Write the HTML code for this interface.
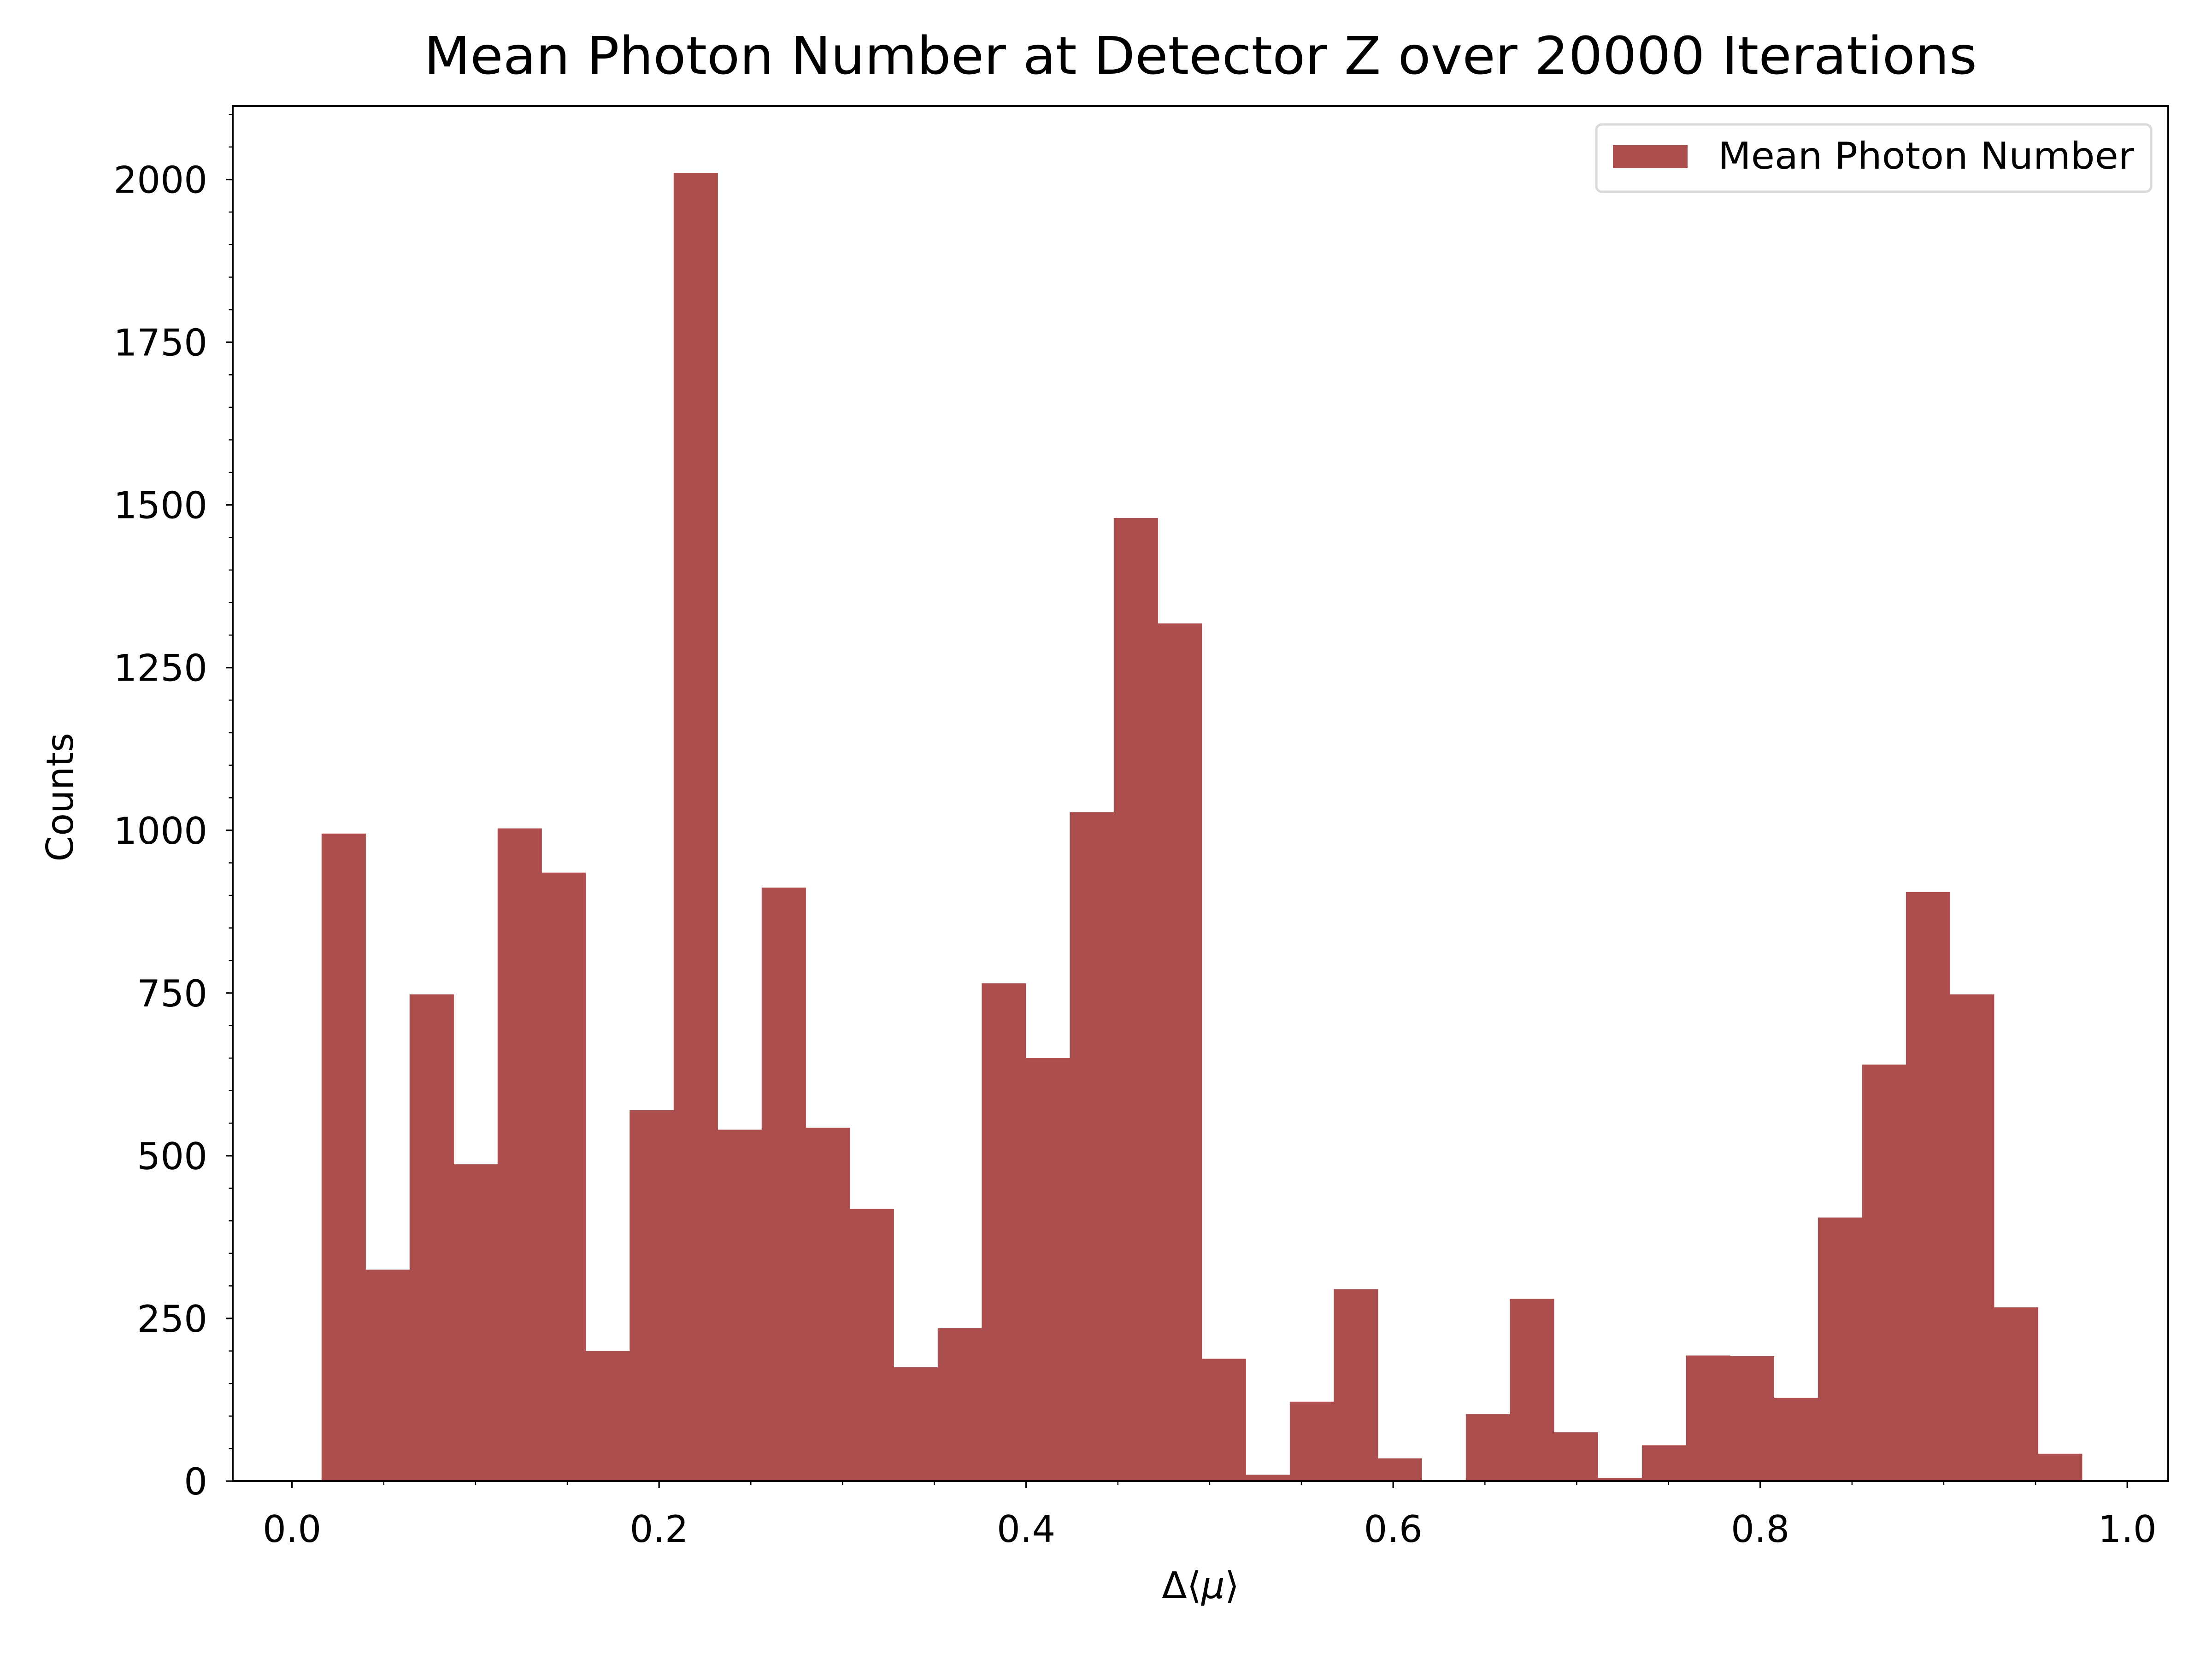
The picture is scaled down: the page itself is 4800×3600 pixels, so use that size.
<!DOCTYPE html>
<html><head><meta charset="utf-8">
<style>
html,body{margin:0;padding:0;background:#fff;}
svg{display:block;font-family:"DejaVu Sans","Liberation Sans",sans-serif;}
</style></head>
<body>
<svg id="chart" width="4800" height="3600" viewBox="0 0 4800 3600" xmlns="http://www.w3.org/2000/svg">
<rect x="0" y="0" width="4800" height="3600" fill="#fff"/>
<text x="2605" y="160" font-size="112" text-anchor="middle" textLength="3370" lengthAdjust="spacingAndGlyphs" fill="#000">Mean Photon Number at Detector Z over 20000 Iterations</text>
<g id="bars"></g>
<g id="ticks"></g>
<rect x="505" y="230" width="4200" height="2984" fill="none" stroke="#000" stroke-width="4"/>
<text x="2605" y="3468" font-size="80" text-anchor="middle" fill="#000">Δ⟨<tspan font-style="italic">μ</tspan>⟩</text>
<text x="0" y="0" font-size="80" text-anchor="middle" fill="#000" transform="translate(158,1730) rotate(-90)">Counts</text>
<g>
<rect x="3464" y="270" width="1204" height="146" rx="12" fill="#fff" stroke="#d9d9d9" stroke-width="5"/>
<rect x="3500" y="315" width="162" height="50" fill="#ad4e4e"/>
<text x="3728" y="366" font-size="80" textLength="903" lengthAdjust="spacingAndGlyphs" fill="#000">Mean Photon Number</text>
</g>
</svg>
<script>
const binStart = 0.0161;
const binWidth = 0.02398;
const counts = [995,325,748,487,1003,935,200,570,2010,540,912,543,418,175,235,765,650,1028,1480,1318,188,10,122,295,35,0,103,280,75,5,55,193,192,128,405,640,905,748,267,42];
const xTickValues = [0.0,0.2,0.4,0.6,0.8,1.0];
const xTickLabels = ["0.0","0.2","0.4","0.6","0.8","1.0"];
const yTickValues = [0,250,500,750,1000,1250,1500,1750,2000];
const yTickLabels = ["0","250","500","750","1000","1250","1500","1750","2000"];

const NS = "http://www.w3.org/2000/svg";
const X0 = 505, X1 = 4705, Y0 = 3214, Y1 = 230;
const xMin = -0.0323, xMax = 1.0223, yMin = 0, yMax = 2113;
function xs(v){ return X0 + (v - xMin) / (xMax - xMin) * (X1 - X0); }
function ys(v){ return Y0 - (v - yMin) / (yMax - yMin) * (Y0 - Y1); }
function mk(tag, attrs){ const e = document.createElementNS(NS, tag); for (const k in attrs) e.setAttribute(k, attrs[k]); return e; }

const bars = document.getElementById('bars');
counts.forEach((c, i) => {
  const a = binStart + i * binWidth, b = a + binWidth;
  const r = mk('rect', {x: xs(a), y: ys(c), width: xs(b) - xs(a) + 0.6, height: ys(0) - ys(c), fill: '#ad4e4e'});
  
  
  bars.appendChild(r);
});

const ticks = document.getElementById('ticks');
xTickValues.forEach((v, i) => {
  const x = xs(v);
  const t = mk('line', {x1: x, x2: x, y1: Y0, y2: Y0 + 15, stroke: '#000', 'stroke-width': 3.3});
  
  
  ticks.appendChild(t);
  const l = mk('text', {x: x, y: 3346, 'font-size': 80, 'text-anchor': 'middle', fill: '#000'});
  l.textContent = xTickLabels[i];
  
  
  ticks.appendChild(l);
});
for (let k = 0; k <= 1.0001; k += 0.05) {
  const v = Math.round(k * 100) / 100;
  if (Math.abs(v * 5 - Math.round(v * 5)) < 1e-6) continue;
  const x = xs(v);
  const t = mk('line', {x1: x, x2: x, y1: Y0, y2: Y0 + 8.5, stroke: '#000', 'stroke-width': 2.5});
  
  
  ticks.appendChild(t);
}
yTickValues.forEach((v, i) => {
  const y = ys(v);
  const t = mk('line', {x1: X0 - 15, x2: X0, y1: y, y2: y, stroke: '#000', 'stroke-width': 3.3});
  
  
  ticks.appendChild(t);
  const l = mk('text', {x: 450, y: y + 29, 'font-size': 80, 'text-anchor': 'end', fill: '#000'});
  l.textContent = yTickLabels[i];
  
  
  ticks.appendChild(l);
});
for (let v = 50; v <= 2100; v += 50) {
  if (v % 250 === 0) continue;
  const y = ys(v);
  const t = mk('line', {x1: X0 - 8.5, x2: X0, y1: y, y2: y, stroke: '#000', 'stroke-width': 2.5});
  
  
  ticks.appendChild(t);
}
</script>
</body></html>
